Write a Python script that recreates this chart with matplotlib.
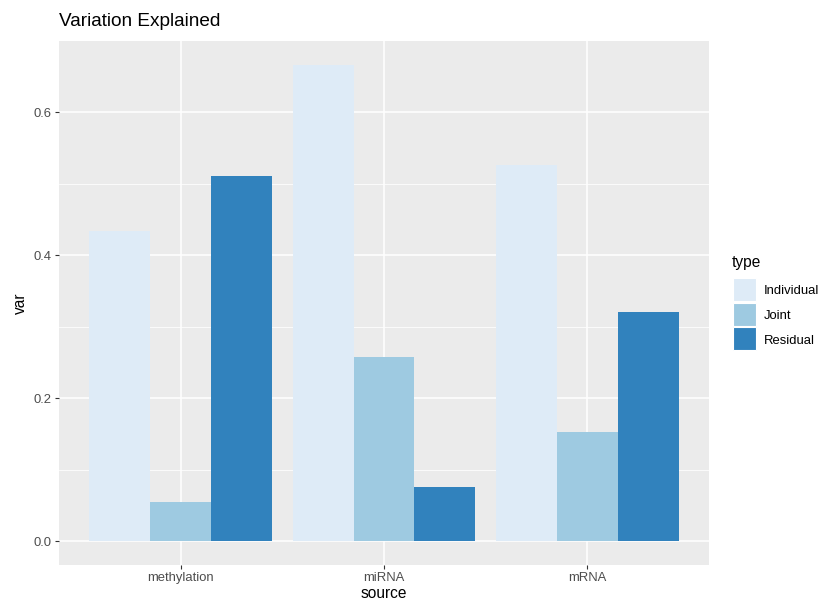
import matplotlib
matplotlib.use("Agg")
import matplotlib.pyplot as plt
from matplotlib.patches import Rectangle
import numpy as np

plt.rcParams["font.family"] = ["Liberation Sans", "DejaVu Sans"]

sources = ["methylation", "miRNA", "mRNA"]
types = ["Individual", "Joint", "Residual"]
individual = [0.433, 0.666, 0.526]
joint = [0.055, 0.257, 0.152]
residual = [0.510, 0.076, 0.320]
colors = ["#deebf7", "#9ecae1", "#3182bd"]

W, H = 820, 602
fig = plt.figure(figsize=(W / 100, H / 100), dpi=100)
fig.patch.set_facecolor("white")

# panel placement in pixels
pl, pr, pt, pb = 59, 709, 41, 565
ax = fig.add_axes([pl / W, 1 - pb / H, (pr - pl) / W, (pb - pt) / H])
ax.set_facecolor("#ebebeb")

series = [individual, joint, residual]
x = np.arange(1, len(sources) + 1)
bw = 0.3
for i, (vals, col) in enumerate(zip(series, colors)):
    ax.bar(x + (i - 1) * bw, vals, width=bw, color=col, zorder=3, linewidth=0)

ymax = max(max(s) for s in series)
pad = ymax * 0.05
ax.set_ylim(-pad, ymax + pad)
ax.set_xlim(0.4, 3.6)

ax.set_yticks([0.0, 0.2, 0.4, 0.6])
ax.set_yticklabels(["0.0", "0.2", "0.4", "0.6"])
ax.set_yticks([0.1, 0.3, 0.5], minor=True)
ax.set_xticks(x)
ax.set_xticklabels(sources)

ax.grid(which="major", color="white", linewidth=1.1, zorder=0)
ax.grid(which="minor", axis="y", color="white", linewidth=0.55, zorder=0)
ax.set_axisbelow(True)
for s in ax.spines.values():
    s.set_visible(False)

ax.tick_params(axis="both", which="major", length=2.8, width=0.8, color="#333333",
               labelcolor="#4d4d4d", labelsize=9.4, pad=2.5)
ax.tick_params(axis="both", which="minor", length=0)

ax.set_xlabel("source", fontsize=11.2, color="black", labelpad=1)
ax.set_ylabel("var", fontsize=11.2, color="black", labelpad=4)

fig.text(pl / W, 1 - 21 / H, "Variation Explained", fontsize=13.7,
         ha="left", va="center", color="black")

# legend
fig.text(732 / W, 1 - 263 / H, "type", fontsize=11.2, ha="left", va="center")
key_top = 278
key_h = 24.5
for i, (lab, col) in enumerate(zip(types, colors)):
    y0 = key_top + i * key_h
    fig.patches.append(Rectangle((733 / W, 1 - (y0 + 23) / H), 23 / W, 23 / H,
                                 transform=fig.transFigure, facecolor=col,
                                 edgecolor="white", linewidth=0.8))
    fig.text(764 / W, 1 - (y0 + 13.5) / H, lab, fontsize=9.4, ha="left",
             va="center", color="black")

fig.savefig("out.png", dpi=100, facecolor="white")
